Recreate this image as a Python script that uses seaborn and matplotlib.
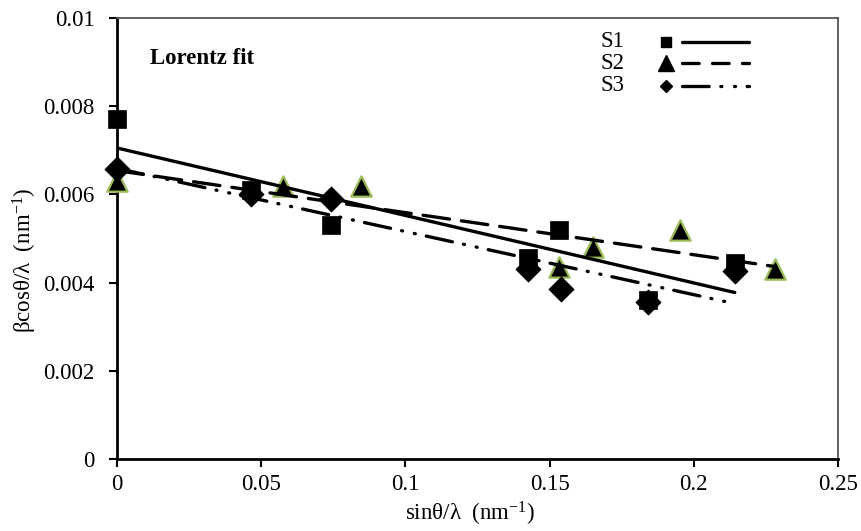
import numpy as np
import pandas as pd
import seaborn as sns
import matplotlib
matplotlib.use("Agg")
import matplotlib.pyplot as plt
from matplotlib.ticker import FixedLocator, FixedFormatter

# Williamson-Hall style data: sin(theta)/lambda vs beta*cos(theta)/lambda
s1_x = [0.0, 0.0466, 0.0743, 0.1424, 0.1532, 0.1842, 0.2142]
s1_y = [0.0077, 0.0061, 0.0053, 0.00455, 0.0052, 0.0036, 0.00445]

s2_x = [0.0, 0.0576, 0.0847, 0.1532, 0.1650, 0.1953, 0.2280]
s2_y = [0.0063, 0.0062, 0.0062, 0.00435, 0.0048, 0.0052, 0.0043]

s3_x = [0.0, 0.0466, 0.0743, 0.1424, 0.1540, 0.1842, 0.2142]
s3_y = [0.00658, 0.0060, 0.00589, 0.0043, 0.00386, 0.00355, 0.00427]

series_names = ["S1", "S2", "S3"]
x_ticks = [0, 0.05, 0.1, 0.15, 0.2, 0.25]
x_tick_labels = ["0", "0.05", "0.1", "0.15", "0.2", "0.25"]
y_ticks = [0, 0.002, 0.004, 0.006, 0.008, 0.01]
y_tick_labels = ["0", "0.002", "0.004", "0.006", "0.008", "0.01"]

sns.set_theme(style="white")
plt.rcParams["font.family"] = ["Liberation Serif", "DejaVu Serif"]
plt.rcParams["mathtext.fontset"] = "custom"
plt.rcParams["mathtext.rm"] = "Liberation Serif"
plt.rcParams["mathtext.it"] = "Liberation Serif:italic"

FS = 16.5

fig = plt.figure(figsize=(8.61, 5.31), dpi=100)
ax = fig.add_axes([0.1359, 0.1356, 0.8374, 0.8305])

tri_edge = "#9BBB59"

# markers
sns.scatterplot(x=s1_x, y=s1_y, marker="s", s=150, color="black",
                edgecolor="black", linewidth=0.5, ax=ax, zorder=3, clip_on=False)
sns.scatterplot(x=s2_x, y=s2_y, marker="^", s=215, color="black",
                edgecolor=tri_edge, linewidth=1.6, ax=ax, zorder=3, clip_on=False)
sns.scatterplot(x=s3_x, y=s3_y, marker="D", s=165, color="black",
                edgecolor="black", linewidth=0.5, ax=ax, zorder=3, clip_on=False)

# linear fits
lw = 2.4
sns.regplot(x=s1_x, y=s1_y, ci=None, scatter=False, truncate=True, ax=ax,
            color="black", line_kws=dict(lw=lw, solid_capstyle="round", zorder=4))
sns.regplot(x=s2_x, y=s2_y, ci=None, scatter=False, truncate=True, ax=ax,
            color="black", line_kws=dict(lw=lw, dashes=(8, 3.6),
                                         dash_capstyle="round", zorder=4))
sns.regplot(x=s3_x, y=s3_y, ci=None, scatter=False, truncate=True, ax=ax,
            color="black", line_kws=dict(lw=lw, dashes=(8, 3.4, 0.3, 3.6, 0.3, 3.4),
                                         dash_capstyle="round", zorder=4))

ax.set_xlim(0, 0.25)
ax.set_ylim(0, 0.01)
ax.xaxis.set_major_locator(FixedLocator(x_ticks))
ax.xaxis.set_major_formatter(FixedFormatter(x_tick_labels))
ax.yaxis.set_major_locator(FixedLocator(y_ticks))
ax.yaxis.set_major_formatter(FixedFormatter(y_tick_labels))

for side in ["left", "bottom"]:
    ax.spines[side].set_color("black")
    ax.spines[side].set_linewidth(2.0)
for side in ["top", "right"]:
    ax.spines[side].set_color("#555555")
    ax.spines[side].set_linewidth(1.3)

ax.tick_params(axis="both", which="major", direction="out", length=6,
               width=1.5, color="black", labelsize=FS, labelcolor="black",
               bottom=True, left=True)
ax.tick_params(axis="y", pad=10)
ax.tick_params(axis="x", pad=5)

ax.set_xlabel(r"sinθ/λ  (nm$^{\mathregular{-1}}$)", fontsize=FS, color="black")
ax.set_ylabel(r"βcosθ/λ  (nm$^{\mathregular{-1}}$)", fontsize=FS, color="black")
ax.xaxis.set_label_coords(0.49, -0.092)
ax.yaxis.set_label_coords(-0.108, 0.45)

ax.text(0.046, 0.909, "Lorentz fit", transform=ax.transAxes, fontsize=FS,
        fontweight="bold", va="center", ha="left", color="black")

# legend: name, marker, line sample
leg_rows = [0.946, 0.897, 0.846]
leg_markers = [dict(marker="s", ms=7, mfc="black", mec="black"),
               dict(marker="^", ms=11, mfc="black", mec="black"),
               dict(marker="D", ms=6.5, mfc="black", mec="black")]
leg_styles = [dict(ls="-"), dict(dashes=(5, 4)), dict(dashes=(8, 3.5, 0.3, 3.8, 0.3, 3.5))]
for name, yy, mk, st in zip(series_names, leg_rows, leg_markers, leg_styles):
    ax.text(0.670, yy, name, transform=ax.transAxes, fontsize=FS,
            va="center", ha="left", color="black")
    ax.plot([0.762], [yy], transform=ax.transAxes, ls="none", clip_on=False, **mk)
    ax.plot([0.784, 0.876], [yy, yy], transform=ax.transAxes, color="black",
            lw=2.4, dash_capstyle="round", clip_on=False, **st)

fig.savefig("out.png", dpi=100, facecolor="white")
